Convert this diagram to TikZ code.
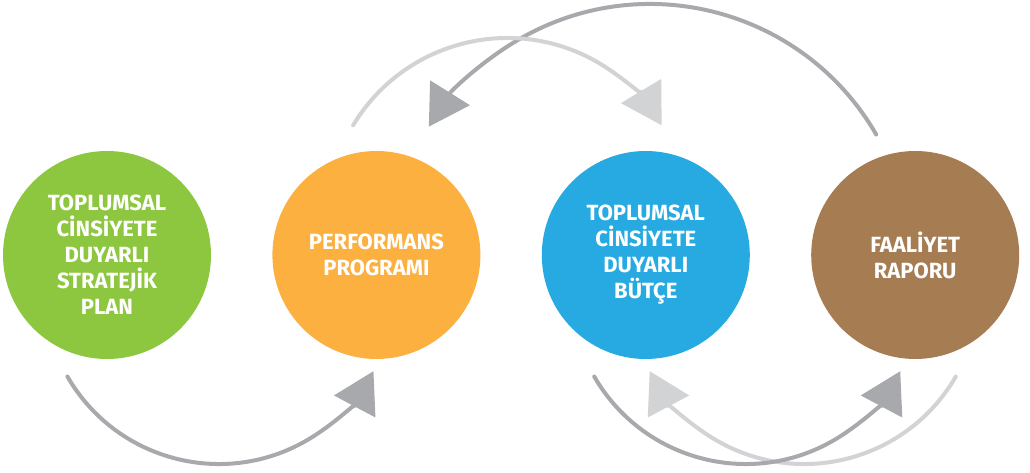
\documentclass[tikz,border=0pt]{standalone}
\usepackage{fontspec}
\setmainfont{Fira Sans}
\usetikzlibrary{arrows.meta,positioning}
\definecolor{plangreen}{HTML}{8DC63F}
\definecolor{progorange}{HTML}{FBB040}
\definecolor{budgetblue}{HTML}{27AAE1}
\definecolor{reportbrown}{HTML}{A67C52}
\definecolor{arcdark}{HTML}{A7A9AC}
\definecolor{arclight}{HTML}{D1D3D4}
\begin{document}
\begin{tikzpicture}[x=1pt, y=1pt, node distance=61pt,
    stage/.style={circle, minimum size=208pt, inner sep=0pt, text=white, align=center,
      font=\fontsize{22}{26}\selectfont\bfseries},
    darkarc/.style={draw=arcdark, line width=4pt, line cap=round, -{Triangle[length=40pt, width=46pt]}},
    lightarc/.style={draw=arclight, line width=4pt, line cap=round, -{Triangle[length=40pt, width=46pt]}}]
    \useasboundingbox (0,0) rectangle (1030,472);

    \node[stage, fill=plangreen] (plan) at (107,217) {TOPLUMSAL\\CİNSİYETE\\DUYARLI\\STRATEJİK\\PLAN};
    \node[stage, fill=progorange, right=of plan] (program) {PERFORMANS\\PROGRAMI};
    \node[stage, fill=budgetblue, right=of program] (budget) {TOPLUMSAL\\CİNSİYETE\\DUYARLI\\BÜTÇE};
    \node[stage, fill=reportbrown, right=of budget] (report) {FAALİYET\\RAPORU};

    % arc starts
    \coordinate (plan-out) at ([shift={(-39.6,-121.5)}]plan.center);
    \coordinate (program-out) at ([shift={(-23.3,129.7)}]program.center);
    \coordinate (budget-out) at ([shift={(-51.6,-121.5)}]budget.center);
    \coordinate (report-top) at ([shift={(-39,120.5)}]report.center);
    \coordinate (report-bot) at ([shift={(40.6,-121.5)}]report.center);

    \draw[darkarc] (report-top) arc[start angle=30, end angle=148, radius=261];
    \draw[lightarc] (program-out) arc[start angle=149, end angle=31, radius=180];
    \draw[darkarc] (plan-out) arc[start angle=210, end angle=332, radius=175];
    \draw[lightarc] (report-bot) arc[start angle=330, end angle=208, radius=175];
    \draw[darkarc] (budget-out) arc[start angle=210, end angle=332, radius=175];
\end{tikzpicture}
\end{document}
